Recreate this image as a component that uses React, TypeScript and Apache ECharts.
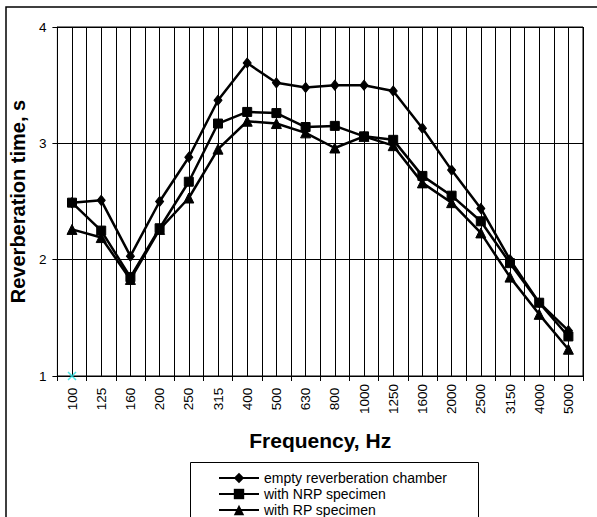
import React, { useEffect, useRef } from "react";
import * as echarts from "echarts";

const categories = ["100", "125", "160", "200", "250", "315", "400", "500", "630", "800", "1000", "1250", "1600", "2000", "2500", "3150", "4000", "5000"];
const emptyChamber = [2.49, 2.51, 2.03, 2.5, 2.88, 3.37, 3.69, 3.52, 3.48, 3.5, 3.5, 3.45, 3.13, 2.77, 2.44, 2.0, 1.63, 1.39];
const withNRP = [2.49, 2.25, 1.85, 2.27, 2.67, 3.17, 3.27, 3.26, 3.14, 3.15, 3.06, 3.03, 2.72, 2.55, 2.33, 1.97, 1.63, 1.34];
const withRP = [2.26, 2.19, 1.83, 2.26, 2.53, 2.95, 3.19, 3.17, 3.09, 2.96, 3.06, 2.98, 2.66, 2.49, 2.23, 1.85, 1.53, 1.23];
const seriesNames = ["empty reverberation chamber", "with NRP specimen", "with RP specimen"];
const markerPoint = [["100", 1]];
const yTicks = { min: 1, max: 4, interval: 1 };

const FONT = "'Liberation Sans', Arial, sans-serif";

export default function App() {
  const ref = useRef<HTMLDivElement>(null);
  useEffect(() => {
    if (!ref.current) return;
    const chart = echarts.init(ref.current, undefined, { renderer: "svg" });
    const lineStyle = { color: "#000", width: 2.5 };
    const mk = (name: string, data: number[], symbol: string, size: any) => ({
      name,
      type: "line",
      data,
      symbol,
      symbolSize: size,
      showSymbol: true,
      lineStyle,
      itemStyle: { color: "#000", borderColor: "#000" },
      xAxisIndex: 0,
      z: 3,
    });
    chart.setOption({
      animation: false,
      textStyle: { fontFamily: FONT, color: "#000" },
      grid: { left: 56, right: 14, top: 27, bottom: 141, show: true, borderColor: "#000", borderWidth: 1, backgroundColor: "transparent" },
      graphic: [
        { type: "rect", shape: { x: 6, y: 7, width: 620, height: 540 }, style: { fill: "none", stroke: "#000", lineWidth: 1.5 }, silent: true },
        { type: "rect", shape: { x: 190.5, y: 462.5, width: 288, height: 80 }, style: { fill: "#fff", stroke: "#000", lineWidth: 1 }, silent: true, z: -1 },
      ],
      legend: {
        data: seriesNames,
        orient: "vertical",
        left: 218,
        top: 471,
        height: 90,
        padding: 0,
        itemWidth: 40,
        itemHeight: 13,
        itemGap: 2,
        textStyle: { fontFamily: FONT, fontSize: 14, color: "#000" },
        z: 10,
      },
      xAxis: [
        {
          type: "category",
          data: categories,
          boundaryGap: true,
          name: "Frequency, Hz",
          nameLocation: "middle",
          nameGap: 54,
          nameTextStyle: { fontFamily: FONT, fontSize: 21, fontWeight: "bold", color: "#000" },
          axisLine: { lineStyle: { color: "#000", width: 1 } },
          axisTick: { show: true, length: 5, lineStyle: { color: "#000" } },
          axisLabel: { rotate: 90, align: "center", verticalAlign: "middle", margin: 23, fontSize: 13.5, color: "#000", fontFamily: FONT, interval: 0 },
          splitLine: { show: true, interval: 0, lineStyle: { color: "#000", width: 1 } },
        },
        {
          type: "value",
          min: 0,
          max: 36,
          interval: 1,
          show: true,
          position: "bottom",
          axisLine: { show: false },
          axisTick: { show: false },
          axisLabel: { show: false },
          splitLine: { show: true, lineStyle: { color: "#000", width: 1 } },
        },
      ],
      yAxis: {
        type: "value",
        min: yTicks.min,
        max: yTicks.max,
        interval: yTicks.interval,
        name: "Reverberation time, s",
        nameLocation: "middle",
        nameGap: 21,
        nameRotate: 90,
        nameTextStyle: { fontFamily: FONT, fontSize: 20, fontWeight: "bold", color: "#000" },
        axisLine: { show: true, lineStyle: { color: "#000", width: 1 } },
        axisTick: { show: true, length: 5, lineStyle: { color: "#000" } },
        axisLabel: { margin: 11, fontSize: 13.5, color: "#000", fontFamily: FONT },
        splitLine: { show: true, lineStyle: { color: "#000", width: 1 } },
      },
      series: [
        mk(seriesNames[0], emptyChamber, "diamond", [8, 10]),
        mk(seriesNames[1], withNRP, "rect", 9),
        mk(seriesNames[2], withRP, "triangle", 10),
        {
          type: "scatter",
          data: markerPoint,
          xAxisIndex: 0,
          symbol: "path://M0,0L10,10M10,0L0,10",
          symbolSize: 8,
          itemStyle: { color: "none", borderColor: "#22e0e0", borderWidth: 1.5 },
          z: 4,
        },
      ],
    });
    return () => chart.dispose();
  }, []);
  return <div ref={ref} style={{ position: "fixed", left: 0, top: 0, width: 597, height: 517, background: "#fff" }} />;
}
